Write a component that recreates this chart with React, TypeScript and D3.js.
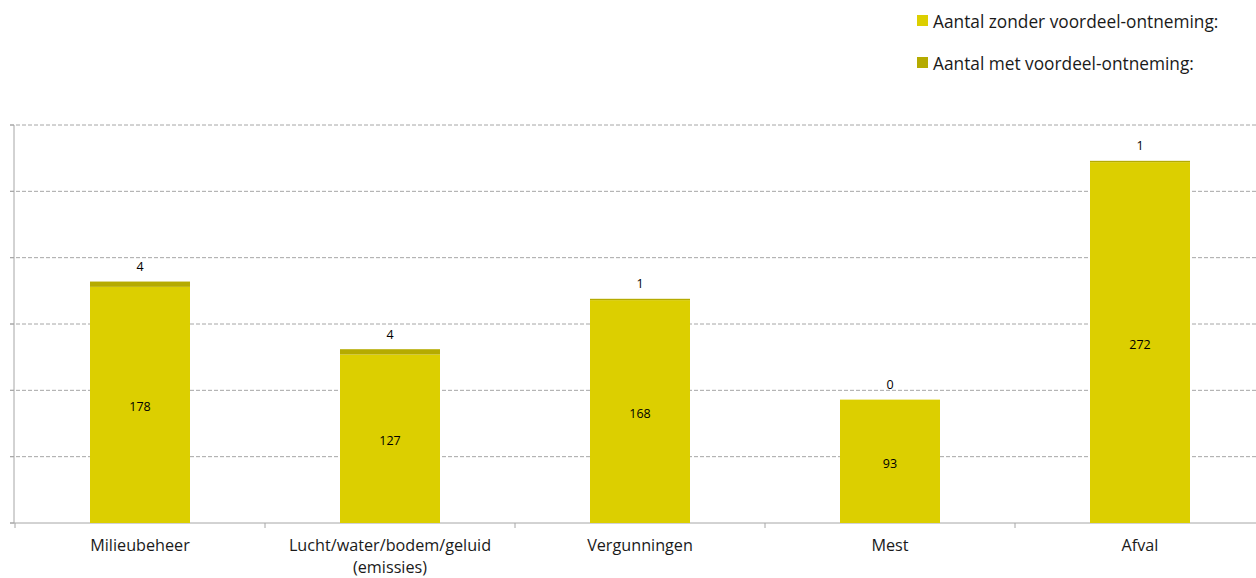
import React from "react";
import * as d3 from "d3";

const categories = ["Milieubeheer", "Lucht/water/bodem/geluid (emissies)", "Vergunningen", "Mest", "Afval"];
const zonderValues = [178, 127, 168, 93, 272];
const metValues = [4, 4, 1, 0, 1];
const seriesNames = ["Aantal zonder voordeel-ontneming:", "Aantal met voordeel-ontneming:"];
const yTicks = [0, 50, 100, 150, 200, 250, 300];

const W = 1256, H = 578;
const colors = ["#dccf00", "#b5ab00"];
const font = "'Open Sans', 'DejaVu Sans', sans-serif";

export default function App() {
  const x = d3.scaleBand<string>().domain(categories).range([15, 1265]).paddingInner(0.6).paddingOuter(0.3);
  const xOuter = d3.scaleBand<string>().domain(categories).range([15, 1265]);
  const y = d3.scaleLinear().domain([0, 300]).range([523, 125]);

  const wrapLabel = (s: string) => {
    if (s.includes(" (")) {
      const i = s.indexOf(" (");
      return [s.slice(0, i), s.slice(i + 1)];
    }
    return [s];
  };

  return (
    <svg width={W} height={H} style={{ position: "absolute", left: 0, top: 0, fontFamily: font }}>
      {yTicks.slice(1).map((t) => (
        <line key={t} x1={10} x2={W} y1={y(t)} y2={y(t)} stroke="#a6a6a6" strokeWidth={1} strokeDasharray="4,2" />
      ))}
      <line x1={14} x2={14} y1={y(300)} y2={y(0)} stroke="#a6a6a6" strokeWidth={1} />
      {yTicks.map((t) => (
        <line key={"yt" + t} x1={10} x2={14} y1={y(t)} y2={y(t)} stroke="#a6a6a6" />
      ))}
      <line x1={10} x2={W} y1={y(0)} y2={y(0)} stroke="#a6a6a6" strokeWidth={1} />
      {categories.map((c) => (
        <line key={"xt" + c} x1={xOuter(c)!} x2={xOuter(c)!} y1={y(0)} y2={y(0) + 5} stroke="#a6a6a6" />
      ))}
      {categories.map((c, i) => {
        const bx = x(c)!;
        const bw = x.bandwidth();
        const z = zonderValues[i];
        const m = metValues[i];
        const cx = bx + bw / 2;
        return (
          <g key={c}>
            <rect x={bx} y={y(z)} width={bw} height={y(0) - y(z)} fill={colors[0]} />
            <rect x={bx} y={y(z + m)} width={bw} height={y(z) - y(z + m)} fill={colors[1]} />
            <text x={cx} y={(y(0) + y(z)) / 2 + 2} textAnchor="middle" dominantBaseline="central" fontSize={12.5} fill="#000">{z}</text>
            <text x={cx} y={y(z + m) - 15} textAnchor="middle" dominantBaseline="central" fontSize={12.5} fill="#000">{m}</text>
          </g>
        );
      })}
      {categories.map((c) => {
        const lines = wrapLabel(c);
        const cx = xOuter(c)! + xOuter.bandwidth() / 2;
        return (
          <text key={"xl" + c} x={cx} textAnchor="middle" fontSize={16.2} fill="#1a1a1a">
            {lines.map((l, j) => (
              <tspan key={j} x={cx} y={551 + j * 22}>{l}</tspan>
            ))}
          </text>
        );
      })}
      {seriesNames.map((s, i) => (
        <g key={s} transform={`translate(917, ${15 + i * 42})`}>
          <rect x={0} y={0} width={11} height={11} fill={colors[i]} />
          <text x={16} y={6} dominantBaseline="central" fontSize={17.3} fill="#1a1a1a">{s}</text>
        </g>
      ))}
    </svg>
  );
}
